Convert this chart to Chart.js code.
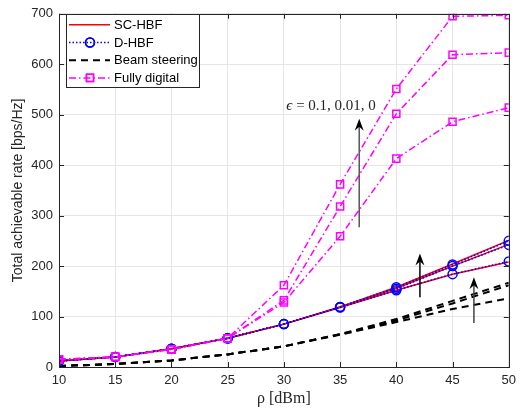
<!DOCTYPE html>
<html>
<head>
<meta charset="utf-8">
<script src="https://cdn.jsdelivr.net/npm/chart.js@4.4.1/dist/chart.umd.min.js"></script>
<style>
  body { margin: 0; background: #fff; }
  #wrap { width: 522px; height: 409px; }
</style>
</head>
<body>
<div id="wrap"><canvas id="myChart" width="522" height="409"></canvas></div>
<script>
// x values (transmit power, dBm)
const rho = [10, 15, 20, 25, 30, 35, 40, 45, 50];

// SC-HBF, eps = 0.1 / 0.01 / 0
const scHbf1 = [12, 20, 36, 57, 85, 119, 158, 204, 251];
const scHbf2 = [12, 20, 36, 57, 85, 119, 156, 200, 243];
const scHbf3 = [12, 20, 36, 57, 85, 118, 152, 184, 208];

// D-HBF
const dHbf1 = [12, 20, 36, 57, 85, 119, 158, 203, 250];
const dHbf2 = [12, 20, 36, 57, 85, 119, 155, 200, 242];
const dHbf3 = [12, 20, 36, 57, 85, 118, 152, 184, 209];

// Beam steering
const beam1 = [2, 6, 13, 25, 41, 65, 95, 131, 167];
const beam2 = [2, 6, 13, 25, 41, 65, 92, 126, 162];
const beam3 = [2, 6, 13, 25, 41, 64, 89, 115, 136];

// Fully digital
const fd1 = [15, 20, 35, 57, 162, 362, 551, 695, 697];
const fd2 = [15, 20, 35, 57, 132, 318, 502, 619, 623];
const fd3 = [15, 20, 35, 57, 128, 259, 413, 486, 514];

const xTicks = [10, 15, 20, 25, 30, 35, 40, 45, 50];
const yTicks = [0, 100, 200, 300, 400, 500, 600, 700];

// arrows in data units: x, from y, to y
const arrows = [
    { x: 36.7, y0: 277, y1: 492, color: '#555555' },
    { x: 42.1, y0: 138, y1: 225, color: '#000000' },
    { x: 46.9, y0: 87, y1: 178, color: '#444444' }
];
const epsLabel = { x: 34.2, y: 518 };
const yTitle = 'Total achievable rate [bps/Hz]';

const FONT = 'Arial, Helvetica, "Liberation Sans", sans-serif';
const SERIF = '"Liberation Serif", "DejaVu Serif", serif';

const styles = {
    sc: { borderColor: '#ff0000', borderWidth: 1.5, pointRadius: 0, order: 2 },
    dh: {
        borderColor: '#0000ff', borderWidth: 1.5, borderDash: [1.5, 2],
        pointStyle: 'circle', pointRadius: 4.5, pointBorderWidth: 1.5,
        pointBorderColor: '#0000ff', pointBackgroundColor: 'rgba(0,0,0,0)', order: 1
    },
    bs: { borderColor: '#000000', borderWidth: 2, borderDash: [7, 5], pointRadius: 0, order: 3 },
    fd: {
        borderColor: '#ff00ff', borderWidth: 1.5, borderDash: [7, 3, 1.5, 3],
        pointStyle: 'rect', pointRadius: 5, pointBorderWidth: 1.5,
        pointBorderColor: '#ff00ff', pointBackgroundColor: 'rgba(0,0,0,0)', order: 0
    }
};

function makeSet(label, vals, style) {
    return Object.assign({
        label: label,
        data: rho.map((r, i) => ({ x: r, y: vals[i] })),
        fill: false,
        tension: 0
    }, style);
}

const datasets = [
    makeSet('SC-HBF', scHbf1, styles.sc),
    makeSet('SC-HBF', scHbf2, styles.sc),
    makeSet('SC-HBF', scHbf3, styles.sc),
    makeSet('D-HBF', dHbf1, styles.dh),
    makeSet('D-HBF', dHbf2, styles.dh),
    makeSet('D-HBF', dHbf3, styles.dh),
    makeSet('Beam steering', beam1, styles.bs),
    makeSet('Beam steering', beam2, styles.bs),
    makeSet('Beam steering', beam3, styles.bs),
    makeSet('Fully digital', fd1, styles.fd),
    makeSet('Fully digital', fd2, styles.fd),
    makeSet('Fully digital', fd3, styles.fd)
];

const legendItems = [
    { text: 'SC-HBF', style: styles.sc },
    { text: 'D-HBF', style: styles.dh },
    { text: 'Beam steering', style: styles.bs },
    { text: 'Fully digital', style: styles.fd }
];

function drawArrow(ctx, x, yFrom, yTo, color) {
    ctx.save();
    ctx.strokeStyle = color;
    ctx.lineWidth = 1.5;
    ctx.beginPath();
    ctx.moveTo(x, yFrom);
    ctx.lineTo(x, yTo + 6);
    ctx.stroke();
    ctx.fillStyle = '#000';
    ctx.beginPath();
    ctx.moveTo(x, yTo);
    ctx.lineTo(x - 4.5, yTo + 12);
    ctx.lineTo(x, yTo + 8);
    ctx.lineTo(x + 4.5, yTo + 12);
    ctx.closePath();
    ctx.fill();
    ctx.restore();
}

const decorPlugin = {
    id: 'decor',
    afterDatasetsDraw(chart) {
        const ctx = chart.ctx;
        const xs = chart.scales.x, ys = chart.scales.y;
        const a = chart.chartArea;

        // box + inward ticks
        ctx.save();
        ctx.strokeStyle = '#262626';
        ctx.lineWidth = 1;
        ctx.strokeRect(Math.round(a.left) + 0.5, Math.round(a.top) + 0.5,
            Math.round(a.right - a.left), Math.round(a.bottom - a.top));
        ctx.beginPath();
        xTicks.forEach(v => {
            const px = Math.round(xs.getPixelForValue(v)) + 0.5;
            ctx.moveTo(px, a.bottom); ctx.lineTo(px, a.bottom - 5);
            ctx.moveTo(px, a.top); ctx.lineTo(px, a.top + 5);
        });
        yTicks.forEach(v => {
            const py = Math.round(ys.getPixelForValue(v)) + 0.5;
            ctx.moveTo(a.left, py); ctx.lineTo(a.left + 5, py);
            ctx.moveTo(a.right, py); ctx.lineTo(a.right - 5, py);
        });
        ctx.stroke();
        ctx.restore();

        // y axis title (sans, rotated)
        ctx.save();
        ctx.translate(18, (a.top + a.bottom) / 2);
        ctx.rotate(-Math.PI / 2);
        ctx.font = '14px ' + FONT;
        ctx.fillStyle = '#262626';
        ctx.textAlign = 'center';
        ctx.textBaseline = 'middle';
        ctx.fillText(yTitle, 0, 0);
        ctx.restore();

        // arrows
        arrows.forEach(ar => {
            drawArrow(ctx, xs.getPixelForValue(ar.x), ys.getPixelForValue(ar.y0),
                ys.getPixelForValue(ar.y1), ar.color);
        });

        // epsilon label
        ctx.save();
        ctx.fillStyle = '#262626';
        ctx.textBaseline = 'middle';
        const cx = xs.getPixelForValue(epsLabel.x), cy = ys.getPixelForValue(epsLabel.y);
        ctx.font = 'italic 15px ' + SERIF;
        const e = '\u03F5';
        const ew = ctx.measureText(e).width;
        ctx.font = '15px ' + SERIF;
        const rest = ' = 0.1, 0.01, 0';
        const rw = ctx.measureText(rest).width;
        let sx = cx - (ew + rw) / 2;
        ctx.font = 'italic 15px ' + SERIF;
        ctx.fillText(e, sx, cy);
        ctx.font = '15px ' + SERIF;
        ctx.fillText(rest, sx + ew, cy);
        ctx.restore();

        // legend
        ctx.save();
        const lx = a.left + 7, ly = a.top, lw = 133, lh = 73;
        ctx.fillStyle = '#fff';
        ctx.fillRect(lx, ly, lw, lh);
        ctx.strokeStyle = '#262626';
        ctx.lineWidth = 1;
        ctx.strokeRect(Math.round(lx) + 0.5, Math.round(ly) + 0.5, lw, lh);
        legendItems.forEach((it, i) => {
            const y = ly + 11 + i * 17.7;
            const s = it.style;
            ctx.strokeStyle = s.borderColor;
            ctx.lineWidth = s.borderWidth;
            ctx.setLineDash(s.borderDash || []);
            ctx.beginPath();
            ctx.moveTo(lx + 3, y);
            ctx.lineTo(lx + 44, y);
            ctx.stroke();
            ctx.setLineDash([]);
            if (s.pointRadius) {
                ctx.fillStyle = 'rgba(0,0,0,0)';
                Chart.helpers.drawPoint(ctx, {
                    pointStyle: s.pointStyle, radius: s.pointRadius,
                    borderWidth: s.pointBorderWidth, rotation: 0
                }, lx + 24, y);
                ctx.lineWidth = s.pointBorderWidth;
                ctx.strokeStyle = s.pointBorderColor;
                ctx.stroke();
            }
            ctx.fillStyle = '#000';
            ctx.font = '13px ' + FONT;
            ctx.textBaseline = 'middle';
            ctx.fillText(it.text, lx + 48, y + 0.5);
        });
        ctx.restore();
    }
};

function initChart() {
    const canvas = document.getElementById('myChart');
    new Chart(canvas.getContext('2d'), {
        type: 'line',
        data: { datasets: datasets },
        options: {
            responsive: false,
            animation: false,
            layout: { padding: { left: 0, right: 10, top: 13, bottom: 0 } },
            plugins: { legend: { display: false }, tooltip: { enabled: false } },
            scales: {
                x: {
                    type: 'linear', min: 10, max: 50,
                    afterFit(scale) { scale.height = 42; },
                    afterBuildTicks(scale) { scale.ticks = xTicks.map(v => ({ value: v })); },
                    ticks: { color: '#262626', font: { size: 13, family: FONT }, padding: 6, maxRotation: 0 },
                    grid: { color: '#e6e6e6', drawTicks: false },
                    border: { display: false },
                    title: {
                        display: true, text: 'ρ [dBm]', color: '#262626',
                        font: { size: 16, family: SERIF }, padding: { top: 0, bottom: 1 }
                    }
                },
                y: {
                    min: 0, max: 700,
                    afterFit(scale) { scale.width = 59; },
                    afterBuildTicks(scale) { scale.ticks = yTicks.map(v => ({ value: v })); },
                    ticks: { color: '#262626', font: { size: 13, family: FONT }, padding: 6 },
                    grid: { color: '#e6e6e6', drawTicks: false },
                    border: { display: false }
                }
            }
        },
        plugins: [decorPlugin]
    });
}

if (document.readyState === 'loading') {
    document.addEventListener('DOMContentLoaded', initChart);
} else {
    initChart();
}
</script>
</body>
</html>
